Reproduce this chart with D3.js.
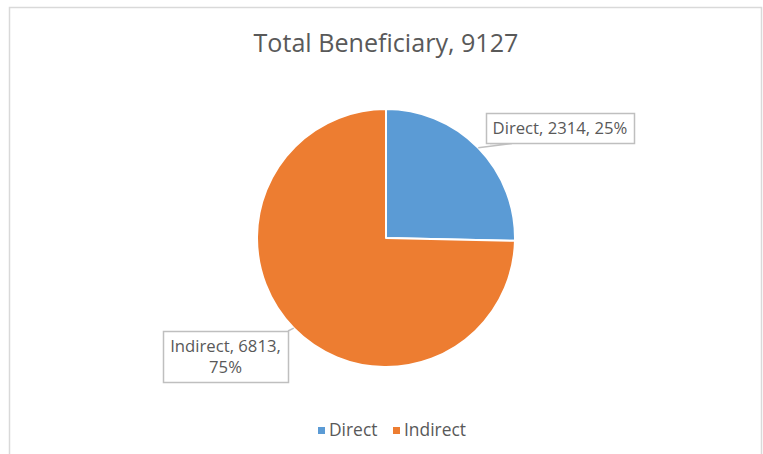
<!DOCTYPE html>
<html>
<head>
<meta charset="utf-8">
<script src="https://cdn.jsdelivr.net/npm/d3@7"></script>
<style>
  body { margin: 0; background: #fff; }
  svg text { font-family: "Open Sans", sans-serif; fill: #595959; }
</style>
</head>
<body>
<div id="chart"></div>
<script>
var categories = ["Direct", "Indirect"];
var values = [2314, 6813];
var colors = ["#5B9BD5", "#ED7D31"];
var chartTitle = "Total Beneficiary, 9127";

var width = 763, height = 454;
var cx = 386, cy = 238, radius = 129;

var svg = d3.select("#chart").append("svg")
    .attr("width", width)
    .attr("height", height);

// chart area border
svg.append("rect")
    .attr("x", 9.5).attr("y", 7.5)
    .attr("width", 752).attr("height", 470)
    .attr("fill", "#fff")
    .attr("stroke", "#d9d9d9")
    .attr("stroke-width", 1.5);

// font size that makes a string span roughly the given width
function fitSize(str, target, base) {
    var t = svg.append("text").attr("font-size", base).text(str);
    var w = t.node().getComputedTextLength();
    t.remove();
    return +(base * target / w).toFixed(2);
}

svg.append("text")
    .attr("x", 386).attr("y", 52)
    .attr("text-anchor", "middle")
    .attr("font-size", fitSize(chartTitle, 265, 20))
    .text(chartTitle);

var total = d3.sum(values);
var data = categories.map(function(c, i) {
    return {name: c, value: values[i], color: colors[i]};
});

var pie = d3.pie().sort(null).value(function(d) { return d.value; });
var arc = d3.arc().innerRadius(0).outerRadius(radius);
var arcs = pie(data);

var g = svg.append("g").attr("transform", "translate(" + cx + "," + cy + ")");

g.selectAll("path")
    .data(arcs)
    .enter().append("path")
    .attr("d", arc)
    .attr("fill", function(d) { return d.data.color; })
    .attr("stroke", "#fff")
    .attr("stroke-width", 2)
    .attr("stroke-linejoin", "round");

// data label boxes (placed like the Excel callouts)
var labelBoxes = [
    {x: 486, y: 113, w: 148, h: 30, anchor: [[512, 143.5], [490, 143.5]], wrap: false},
    {x: 163, y: 331, w: 125, h: 51, anchor: [[288, 331]], wrap: true}
];
var labelSize = fitSize("Direct, 2314, 25%", 135, 15);

arcs.forEach(function(a, i) {
    var b = labelBoxes[i];
    var mid = (a.startAngle + a.endAngle) / 2;
    var px = cx + radius * Math.sin(mid), py = cy - radius * Math.cos(mid);
    var pct = Math.round(a.data.value / total * 100) + "%";
    var head = a.data.name + ", " + a.data.value + ",";
    var lines = b.wrap ? [head, pct] : [head + " " + pct];

    svg.append("path")
        .attr("d", d3.line()([[px, py]].concat(b.anchor)))
        .attr("fill", "none")
        .attr("stroke", "#bfbfbf").attr("stroke-width", 1.5);

    svg.append("rect")
        .attr("x", b.x + 0.5).attr("y", b.y + 0.5)
        .attr("width", b.w).attr("height", b.h)
        .attr("fill", "#fff")
        .attr("stroke", "#bfbfbf").attr("stroke-width", 1.5);

    var t = svg.append("text")
        .attr("text-anchor", "middle")
        .attr("font-size", labelSize);
    lines.forEach(function(line, k) {
        t.append("tspan")
            .attr("x", b.x + b.w / 2)
            .attr("y", b.y + 21 + k * 21)
            .text(line);
    });
});

// legend
var legendSize = fitSize("Indirect", 62, 15);
var legendItems = [
    {x: 318, tx: 329},
    {x: 393, tx: 404}
];
var legend = svg.append("g");
data.forEach(function(d, i) {
    legend.append("rect")
        .attr("x", legendItems[i].x).attr("y", 427)
        .attr("width", 7).attr("height", 7)
        .attr("fill", d.color);
    legend.append("text")
        .attr("x", legendItems[i].tx).attr("y", 436)
        .attr("font-size", legendSize)
        .text(d.name);
});
</script>
</body>
</html>
